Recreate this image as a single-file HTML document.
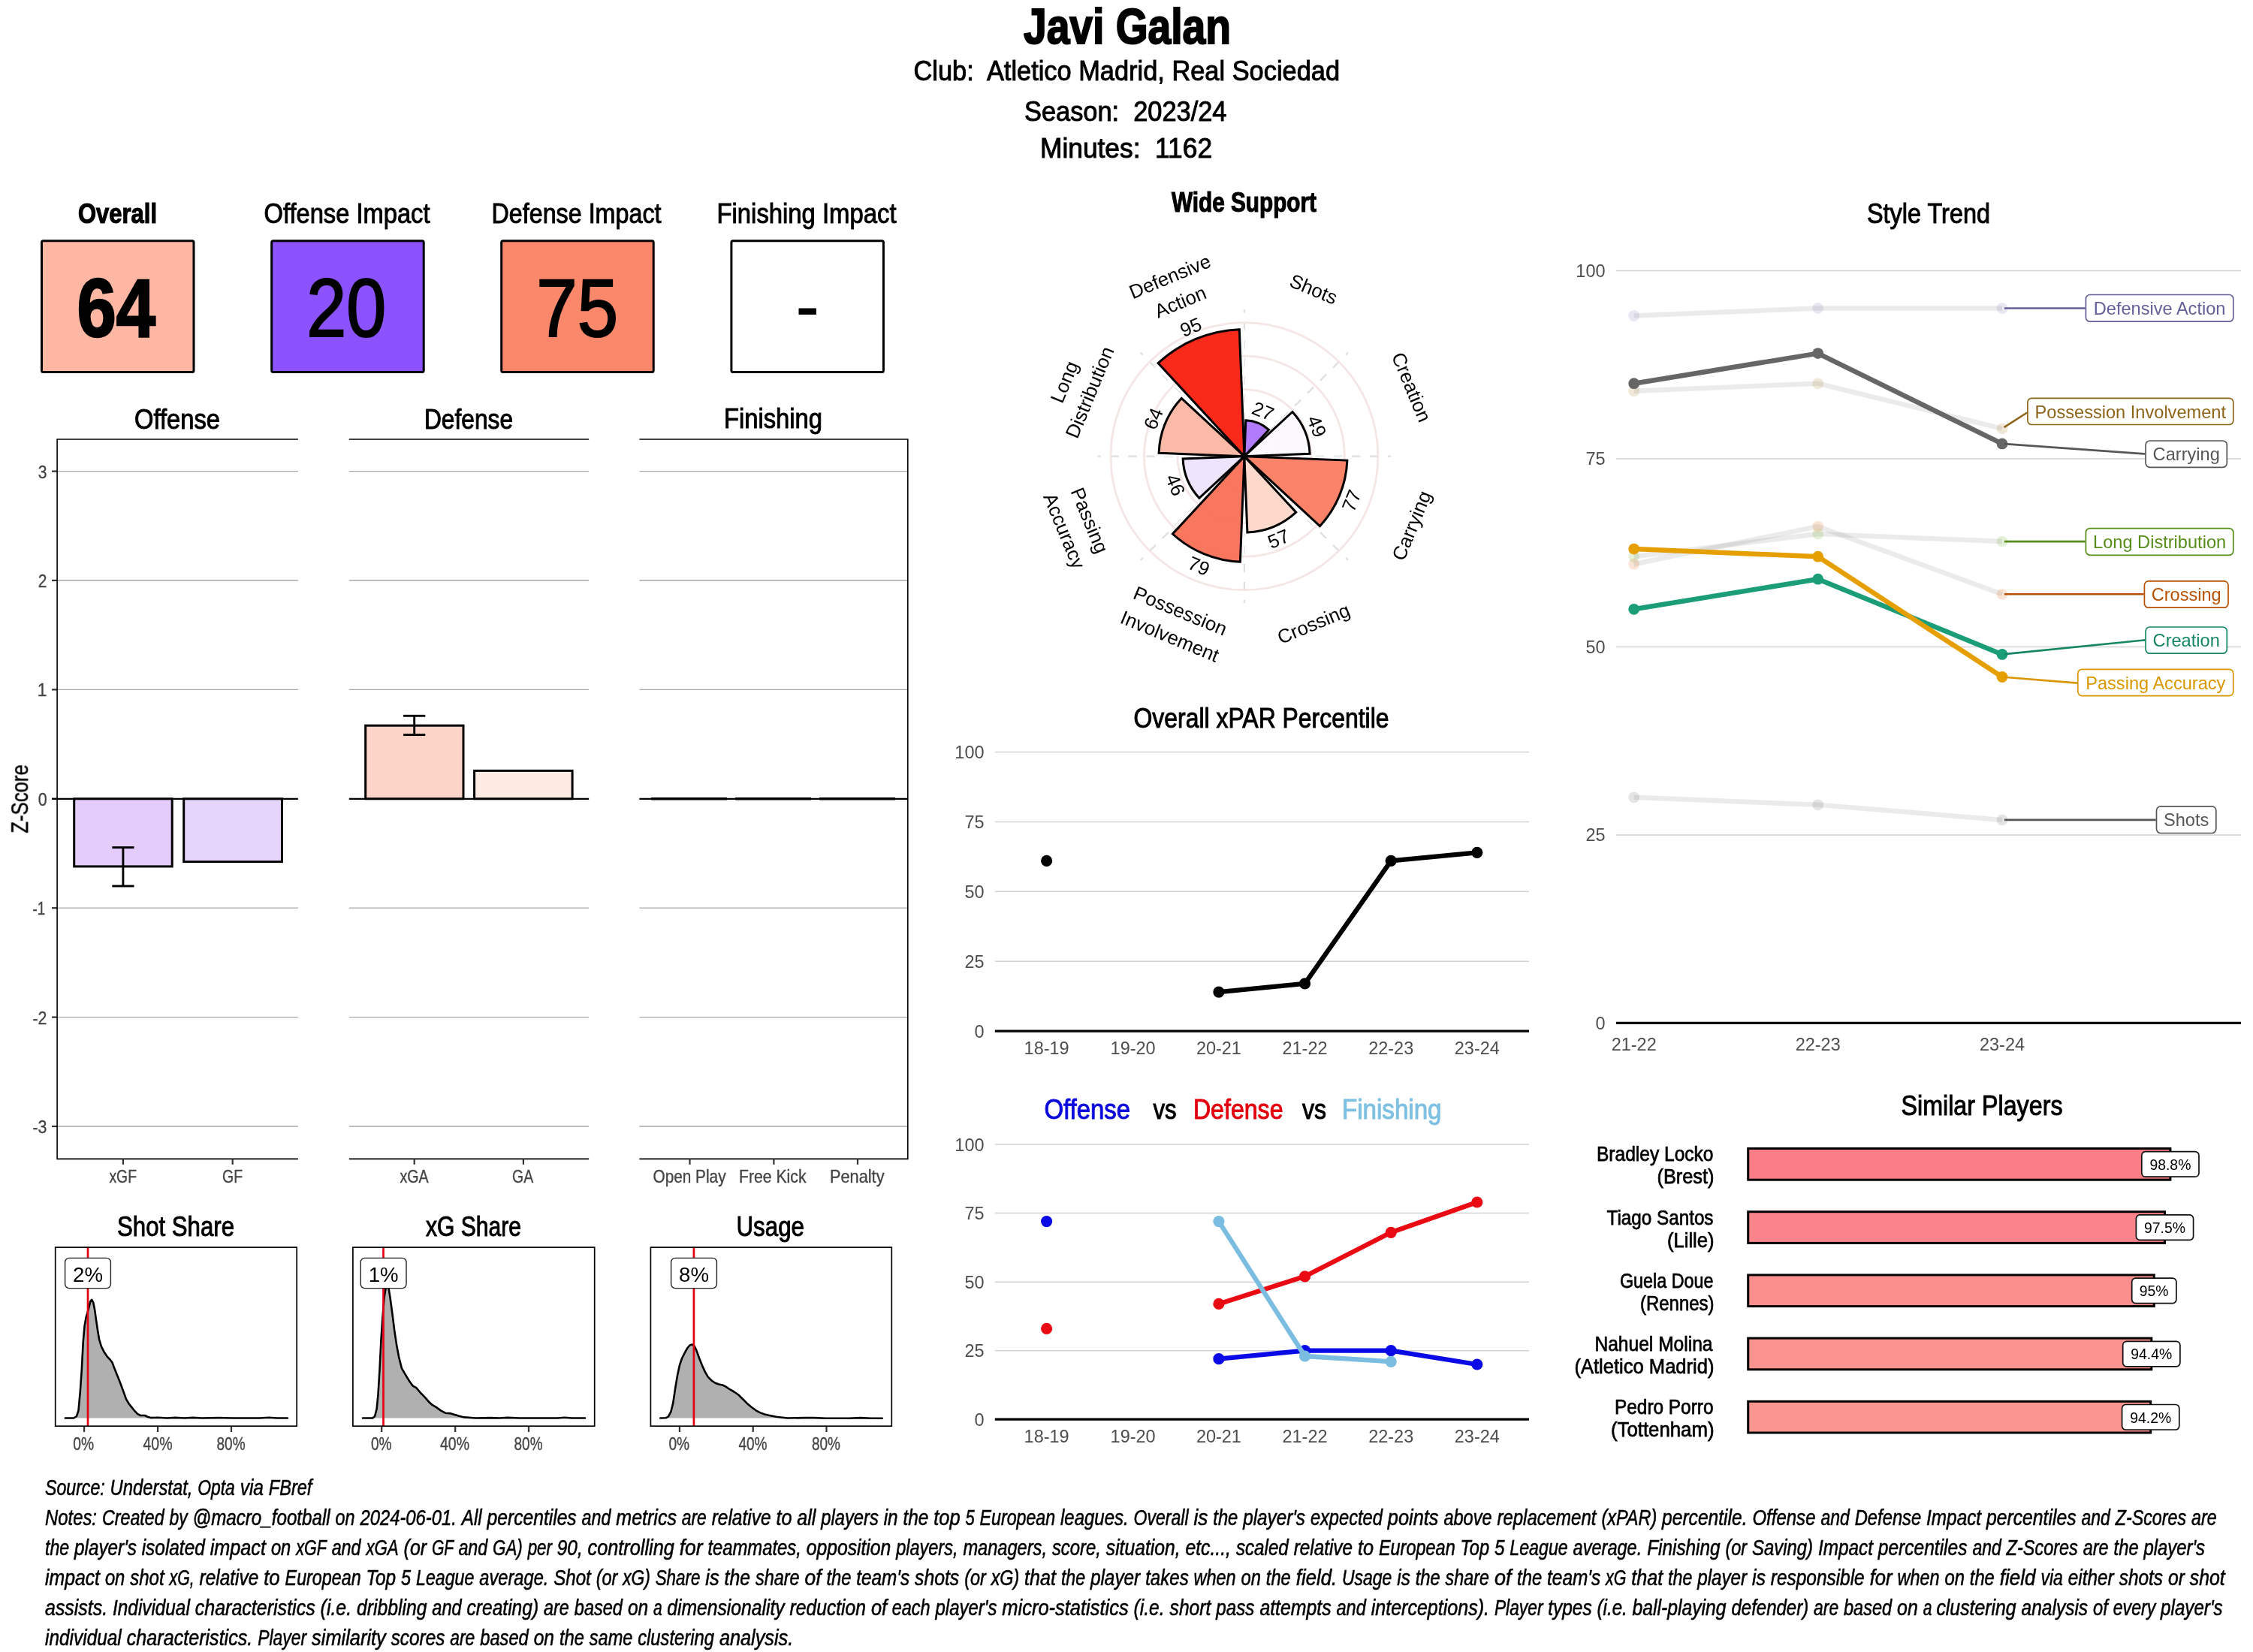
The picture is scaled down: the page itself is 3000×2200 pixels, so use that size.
<!DOCTYPE html>
<html><head><meta charset="utf-8"><title>Javi Galan</title>
<style>html,body{margin:0;padding:0;background:#fff}svg{display:block}text{font-family:"Liberation Sans",sans-serif;white-space:pre}</style>
</head><body>
<svg width="3000" height="2200" viewBox="0 0 3000 2200">
<rect width="3000" height="2200" fill="#fff"/>
<g opacity="0.999">
<text id="t1" x="1362.99" y="57.5" font-size="66.70" textLength="276.02" lengthAdjust="spacingAndGlyphs" font-weight="bold" font-style="normal" fill="#000" stroke="#000" stroke-width="2.13">Javi Galan</text>
<text id="t2" x="1216.49" y="106.5" font-size="36.67" textLength="567.52" lengthAdjust="spacingAndGlyphs" font-weight="normal" font-style="normal" fill="#000" stroke="#000" stroke-width="0.99">Club:  Atletico Madrid, Real Sociedad</text>
<text id="t3" x="1363.98" y="160.5" font-size="36.67" textLength="269.53" lengthAdjust="spacingAndGlyphs" font-weight="normal" font-style="normal" fill="#000" stroke="#000" stroke-width="0.99">Season:  2023/24</text>
<text id="t4" x="1384.97" y="210.2" font-size="36.67" textLength="229.06" lengthAdjust="spacingAndGlyphs" font-weight="normal" font-style="normal" fill="#000" stroke="#000" stroke-width="0.99">Minutes:  1162</text>
<rect x="55.5" y="320.8" width="202.5" height="174.7" fill="#FDB7A3" stroke="#000" stroke-width="3" rx="2"/>
<text id="t5" x="103.99" y="296.8" font-size="36.67" textLength="105.04" lengthAdjust="spacingAndGlyphs" font-weight="bold" font-style="normal" fill="#000" stroke="#000" stroke-width="1.17">Overall</text>
<text id="t6" x="102.48" y="448.0" font-size="110.00" textLength="104.58" lengthAdjust="spacingAndGlyphs" font-weight="bold" font-style="normal" fill="#000" stroke="#000" stroke-width="2.60">64</text>
<rect x="361.7" y="320.8" width="202.5" height="174.7" fill="#8B52FD" stroke="#000" stroke-width="3" rx="2"/>
<text id="t7" x="351.49" y="296.8" font-size="36.67" textLength="221.02" lengthAdjust="spacingAndGlyphs" font-weight="normal" font-style="normal" fill="#000" stroke="#000" stroke-width="0.99">Offense Impact</text>
<text id="t8" x="408.29" y="448.0" font-size="110.00" textLength="105.86" lengthAdjust="spacingAndGlyphs" font-weight="normal" font-style="normal" fill="#000" stroke="#000" stroke-width="2.20">20</text>
<rect x="667.7" y="320.8" width="202.5" height="174.7" fill="#FB886B" stroke="#000" stroke-width="3" rx="2"/>
<text id="t9" x="654.50" y="296.8" font-size="36.67" textLength="226.01" lengthAdjust="spacingAndGlyphs" font-weight="normal" font-style="normal" fill="#000" stroke="#000" stroke-width="0.99">Defense Impact</text>
<text id="t10" x="714.29" y="448.0" font-size="110.00" textLength="108.88" lengthAdjust="spacingAndGlyphs" font-weight="normal" font-style="normal" fill="#000" stroke="#000" stroke-width="2.20">75</text>
<rect x="973.9" y="320.8" width="202.5" height="174.7" fill="#FFFFFF" stroke="#000" stroke-width="3" rx="2"/>
<text id="t11" x="954.50" y="296.8" font-size="36.67" textLength="239.01" lengthAdjust="spacingAndGlyphs" font-weight="normal" font-style="normal" fill="#000" stroke="#000" stroke-width="0.99">Finishing Impact</text>
<rect x="1063.5" y="410.5" width="23.4" height="8.5" fill="#000"/>
<line x1="76.1" y1="627.6" x2="396.9" y2="627.6" stroke="#A8A8A8" stroke-width="1.3"/>
<line x1="76.1" y1="773.0" x2="396.9" y2="773.0" stroke="#A8A8A8" stroke-width="1.3"/>
<line x1="76.1" y1="918.4" x2="396.9" y2="918.4" stroke="#A8A8A8" stroke-width="1.3"/>
<line x1="76.1" y1="1209.2" x2="396.9" y2="1209.2" stroke="#A8A8A8" stroke-width="1.3"/>
<line x1="76.1" y1="1354.6" x2="396.9" y2="1354.6" stroke="#A8A8A8" stroke-width="1.3"/>
<line x1="76.1" y1="1500.0" x2="396.9" y2="1500.0" stroke="#A8A8A8" stroke-width="1.3"/>
<line x1="464.8" y1="627.6" x2="784.1" y2="627.6" stroke="#A8A8A8" stroke-width="1.3"/>
<line x1="464.8" y1="773.0" x2="784.1" y2="773.0" stroke="#A8A8A8" stroke-width="1.3"/>
<line x1="464.8" y1="918.4" x2="784.1" y2="918.4" stroke="#A8A8A8" stroke-width="1.3"/>
<line x1="464.8" y1="1209.2" x2="784.1" y2="1209.2" stroke="#A8A8A8" stroke-width="1.3"/>
<line x1="464.8" y1="1354.6" x2="784.1" y2="1354.6" stroke="#A8A8A8" stroke-width="1.3"/>
<line x1="464.8" y1="1500.0" x2="784.1" y2="1500.0" stroke="#A8A8A8" stroke-width="1.3"/>
<line x1="851.4" y1="627.6" x2="1208.8" y2="627.6" stroke="#A8A8A8" stroke-width="1.3"/>
<line x1="851.4" y1="773.0" x2="1208.8" y2="773.0" stroke="#A8A8A8" stroke-width="1.3"/>
<line x1="851.4" y1="918.4" x2="1208.8" y2="918.4" stroke="#A8A8A8" stroke-width="1.3"/>
<line x1="851.4" y1="1209.2" x2="1208.8" y2="1209.2" stroke="#A8A8A8" stroke-width="1.3"/>
<line x1="851.4" y1="1354.6" x2="1208.8" y2="1354.6" stroke="#A8A8A8" stroke-width="1.3"/>
<line x1="851.4" y1="1500.0" x2="1208.8" y2="1500.0" stroke="#A8A8A8" stroke-width="1.3"/>
<line x1="69.0" y1="627.6" x2="76.1" y2="627.6" stroke="#333" stroke-width="2.2"/>
<text id="t12" x="50.80" y="636.6" font-size="24.40" textLength="11.76" lengthAdjust="spacingAndGlyphs" font-weight="normal" font-style="normal" fill="#444444" stroke="#444444" stroke-width="0.35">3</text>
<line x1="69.0" y1="773.0" x2="76.1" y2="773.0" stroke="#333" stroke-width="2.2"/>
<text id="t13" x="50.85" y="782.0" font-size="24.40" textLength="11.67" lengthAdjust="spacingAndGlyphs" font-weight="normal" font-style="normal" fill="#444444" stroke="#444444" stroke-width="0.35">2</text>
<line x1="69.0" y1="918.4" x2="76.1" y2="918.4" stroke="#333" stroke-width="2.2"/>
<text id="t14" x="49.82" y="927.4" font-size="24.40" textLength="12.70" lengthAdjust="spacingAndGlyphs" font-weight="normal" font-style="normal" fill="#444444" stroke="#444444" stroke-width="0.35">1</text>
<line x1="69.0" y1="1063.8" x2="76.1" y2="1063.8" stroke="#333" stroke-width="2.2"/>
<text id="t15" x="50.77" y="1072.8" font-size="24.40" textLength="12.02" lengthAdjust="spacingAndGlyphs" font-weight="normal" font-style="normal" fill="#444444" stroke="#444444" stroke-width="0.35">0</text>
<line x1="69.0" y1="1209.2" x2="76.1" y2="1209.2" stroke="#333" stroke-width="2.2"/>
<text id="t16" x="43.53" y="1218.2" font-size="24.40" textLength="16.69" lengthAdjust="spacingAndGlyphs" font-weight="normal" font-style="normal" fill="#444444" stroke="#444444" stroke-width="0.35">-1</text>
<line x1="69.0" y1="1354.6" x2="76.1" y2="1354.6" stroke="#333" stroke-width="2.2"/>
<text id="t17" x="43.50" y="1363.6" font-size="24.40" textLength="18.99" lengthAdjust="spacingAndGlyphs" font-weight="normal" font-style="normal" fill="#444444" stroke="#444444" stroke-width="0.35">-2</text>
<line x1="69.0" y1="1500.0" x2="76.1" y2="1500.0" stroke="#333" stroke-width="2.2"/>
<text id="t18" x="43.46" y="1509.0" font-size="24.40" textLength="19.06" lengthAdjust="spacingAndGlyphs" font-weight="normal" font-style="normal" fill="#444444" stroke="#444444" stroke-width="0.35">-3</text>
<rect x="98.7" y="1063.8" width="130.5" height="90.1" fill="#E4CCFB" stroke="#000" stroke-width="3" rx="0"/>
<rect x="244.7" y="1063.8" width="130.8" height="83.8" fill="#E5D5FA" stroke="#000" stroke-width="3" rx="0"/>
<rect x="486.7" y="966.2" width="130.3" height="97.6" fill="#FCD5C8" stroke="#000" stroke-width="3" rx="0"/>
<rect x="631.6" y="1026.4" width="130.5" height="37.4" fill="#FEEBE4" stroke="#000" stroke-width="3" rx="0"/>
<line x1="69.0" y1="1063.8" x2="396.9" y2="1063.8" stroke="#000" stroke-width="2.3"/>
<line x1="464.8" y1="1063.8" x2="784.1" y2="1063.8" stroke="#000" stroke-width="2.3"/>
<line x1="851.4" y1="1063.8" x2="1208.8" y2="1063.8" stroke="#000" stroke-width="2.3"/>
<line x1="867.0" y1="1063.8" x2="968.0" y2="1063.8" stroke="#000" stroke-width="3.6"/>
<line x1="979.0" y1="1063.8" x2="1080.0" y2="1063.8" stroke="#000" stroke-width="3.6"/>
<line x1="1091.0" y1="1063.8" x2="1192.0" y2="1063.8" stroke="#000" stroke-width="3.6"/>
<line x1="163.9" y1="1128.6" x2="163.9" y2="1180.0" stroke="#000" stroke-width="2.9"/>
<line x1="149.3" y1="1128.6" x2="178.5" y2="1128.6" stroke="#000" stroke-width="2.9"/>
<line x1="149.3" y1="1180.0" x2="178.5" y2="1180.0" stroke="#000" stroke-width="2.9"/>
<line x1="551.7" y1="953.3" x2="551.7" y2="978.6" stroke="#000" stroke-width="2.9"/>
<line x1="537.1" y1="953.3" x2="566.3" y2="953.3" stroke="#000" stroke-width="2.9"/>
<line x1="537.1" y1="978.6" x2="566.3" y2="978.6" stroke="#000" stroke-width="2.9"/>
<path d="M396.9 585.0 H76.1 V1543.4 H396.9" fill="none" stroke="#000" stroke-width="1.6"/>
<path d="M464.8 585.0 H784.1 M464.8 1543.4 H784.1" fill="none" stroke="#000" stroke-width="1.6"/>
<path d="M851.4 585.0 H1208.8 V1543.4 H851.4" fill="none" stroke="#000" stroke-width="1.6"/>
<line x1="163.9" y1="1543.4" x2="163.9" y2="1550.8" stroke="#333" stroke-width="2.2"/>
<text id="t19" x="145.43" y="1575.0" font-size="24.40" textLength="36.58" lengthAdjust="spacingAndGlyphs" font-weight="normal" font-style="normal" fill="#444444" stroke="#444444" stroke-width="0.35">xGF</text>
<line x1="309.7" y1="1543.4" x2="309.7" y2="1550.8" stroke="#333" stroke-width="2.2"/>
<text id="t20" x="295.93" y="1575.0" font-size="24.40" textLength="27.15" lengthAdjust="spacingAndGlyphs" font-weight="normal" font-style="normal" fill="#444444" stroke="#444444" stroke-width="0.35">GF</text>
<line x1="551.7" y1="1543.4" x2="551.7" y2="1550.8" stroke="#333" stroke-width="2.2"/>
<text id="t21" x="532.41" y="1575.0" font-size="24.40" textLength="38.22" lengthAdjust="spacingAndGlyphs" font-weight="normal" font-style="normal" fill="#444444" stroke="#444444" stroke-width="0.35">xGA</text>
<line x1="696.9" y1="1543.4" x2="696.9" y2="1550.8" stroke="#333" stroke-width="2.2"/>
<text id="t22" x="682.00" y="1575.0" font-size="24.40" textLength="28.11" lengthAdjust="spacingAndGlyphs" font-weight="normal" font-style="normal" fill="#444444" stroke="#444444" stroke-width="0.35">GA</text>
<line x1="918.5" y1="1543.4" x2="918.5" y2="1550.8" stroke="#333" stroke-width="2.2"/>
<text id="t23" x="869.49" y="1575.0" font-size="24.40" textLength="97.04" lengthAdjust="spacingAndGlyphs" font-weight="normal" font-style="normal" fill="#444444" stroke="#444444" stroke-width="0.35">Open Play</text>
<line x1="1030.4" y1="1543.4" x2="1030.4" y2="1550.8" stroke="#333" stroke-width="2.2"/>
<text id="t24" x="983.99" y="1575.0" font-size="24.40" textLength="89.53" lengthAdjust="spacingAndGlyphs" font-weight="normal" font-style="normal" fill="#444444" stroke="#444444" stroke-width="0.35">Free Kick</text>
<line x1="1142.0" y1="1543.4" x2="1142.0" y2="1550.8" stroke="#333" stroke-width="2.2"/>
<text id="t25" x="1104.98" y="1575.0" font-size="24.40" textLength="72.56" lengthAdjust="spacingAndGlyphs" font-weight="normal" font-style="normal" fill="#444444" stroke="#444444" stroke-width="0.35">Penalty</text>
<text id="t26" x="178.98" y="570.6" font-size="36.67" textLength="114.03" lengthAdjust="spacingAndGlyphs" font-weight="normal" font-style="normal" fill="#000" stroke="#000" stroke-width="0.99">Offense</text>
<text id="t27" x="564.97" y="570.6" font-size="36.67" textLength="118.05" lengthAdjust="spacingAndGlyphs" font-weight="normal" font-style="normal" fill="#000" stroke="#000" stroke-width="0.99">Defense</text>
<text id="t28" x="963.96" y="570.0" font-size="36.67" textLength="131.08" lengthAdjust="spacingAndGlyphs" font-weight="normal" font-style="normal" fill="#000" stroke="#000" stroke-width="0.99">Finishing</text>
<text id="t29" x="-19.55" y="1064.0" font-size="30.56" textLength="91.50" lengthAdjust="spacingAndGlyphs" font-weight="normal" font-style="normal" fill="#000" stroke="#000" stroke-width="0.50" transform="rotate(-90 26.2 1064)" dominant-baseline="central">Z-Score</text>
<path d="M86.9 1888.5 L98.1 1888.5 L102.0 1886.0 L104.5 1878.3 L106.8 1853.1 L108.8 1824.0 L110.7 1787.2 L112.6 1765.9 L114.6 1754.3 L117.5 1744.6 L120.4 1733.0 L122.3 1731.0 L124.3 1734.9 L126.2 1744.6 L128.1 1758.2 L130.1 1771.7 L132.0 1783.3 L134.9 1793.0 L138.8 1800.8 L142.7 1806.6 L146.5 1810.5 L149.4 1814.3 L152.3 1822.1 L156.2 1831.8 L160.1 1841.5 L164.0 1852.1 L167.8 1862.8 L171.7 1869.5 L175.6 1874.4 L179.5 1879.2 L183.3 1883.1 L187.2 1885.0 L193.0 1885.0 L196.9 1887.0 L200.8 1888.1 L210.5 1887.7 L222.1 1888.5 L233.7 1887.9 L245.3 1888.5 L256.9 1887.9 L268.6 1888.5 L291.8 1888.1 L311.2 1888.5 L346.1 1888.5 L357.7 1887.7 L369.3 1888.5 L382.9 1888.5 L382.9 1888.5 Z" fill="#B0B0B0" stroke="none"/>
<path d="M86.9 1888.5 L98.1 1888.5 L102.0 1886.0 L104.5 1878.3 L106.8 1853.1 L108.8 1824.0 L110.7 1787.2 L112.6 1765.9 L114.6 1754.3 L117.5 1744.6 L120.4 1733.0 L122.3 1731.0 L124.3 1734.9 L126.2 1744.6 L128.1 1758.2 L130.1 1771.7 L132.0 1783.3 L134.9 1793.0 L138.8 1800.8 L142.7 1806.6 L146.5 1810.5 L149.4 1814.3 L152.3 1822.1 L156.2 1831.8 L160.1 1841.5 L164.0 1852.1 L167.8 1862.8 L171.7 1869.5 L175.6 1874.4 L179.5 1879.2 L183.3 1883.1 L187.2 1885.0 L193.0 1885.0 L196.9 1887.0 L200.8 1888.1 L210.5 1887.7 L222.1 1888.5 L233.7 1887.9 L245.3 1888.5 L256.9 1887.9 L268.6 1888.5 L291.8 1888.1 L311.2 1888.5 L346.1 1888.5 L357.7 1887.7 L369.3 1888.5 L382.9 1888.5" fill="none" stroke="#000" stroke-width="2.6" stroke-linejoin="round" stroke-linecap="round"/>
<line x1="117.0" y1="1660.5" x2="117.0" y2="1899.6" stroke="#E3000F" stroke-width="2.7"/>
<rect x="73.7" y="1661.1" width="321.5" height="238.1" fill="none" stroke="#000" stroke-width="1.7" rx="0"/>
<line x1="112.1" y1="1899.6" x2="112.1" y2="1907.0" stroke="#333" stroke-width="2.2"/>
<text id="t30" x="97.35" y="1930.6" font-size="24.40" textLength="27.80" lengthAdjust="spacingAndGlyphs" font-weight="normal" font-style="normal" fill="#444444" stroke="#444444" stroke-width="0.35">0%</text>
<line x1="210.1" y1="1899.6" x2="210.1" y2="1907.0" stroke="#333" stroke-width="2.2"/>
<text id="t31" x="190.44" y="1930.6" font-size="24.40" textLength="39.04" lengthAdjust="spacingAndGlyphs" font-weight="normal" font-style="normal" fill="#444444" stroke="#444444" stroke-width="0.35">40%</text>
<line x1="308.0" y1="1899.6" x2="308.0" y2="1907.0" stroke="#333" stroke-width="2.2"/>
<text id="t32" x="288.50" y="1930.6" font-size="24.40" textLength="38.03" lengthAdjust="spacingAndGlyphs" font-weight="normal" font-style="normal" fill="#444444" stroke="#444444" stroke-width="0.35">80%</text>
<rect x="86.6" y="1675.4" width="60.8" height="40.2" fill="#fff" stroke="#222" stroke-width="1.4" rx="5.5"/>
<text x="117.0" y="1706.5" font-size="27.60" text-anchor="middle" font-weight="normal" fill="#000">2%</text>
<text id="t33" x="155.99" y="1646.0" font-size="36.67" textLength="156.03" lengthAdjust="spacingAndGlyphs" font-weight="normal" font-style="normal" fill="#000" stroke="#000" stroke-width="0.99">Shot Share</text>
<path d="M483.0 1888.5 L496.2 1888.5 L499.1 1886.0 L501.6 1876.3 L503.5 1856.9 L505.5 1824.0 L507.4 1785.3 L509.3 1756.2 L511.7 1727.2 L513.6 1715.5 L515.2 1712.6 L517.5 1715.5 L519.4 1727.2 L522.3 1748.5 L525.2 1771.7 L528.1 1791.1 L531.0 1806.6 L534.9 1822.1 L538.8 1828.9 L544.6 1838.5 L549.4 1845.3 L554.3 1848.2 L560.1 1855.0 L565.9 1860.8 L571.7 1867.6 L575.6 1870.9 L581.4 1874.4 L587.2 1878.6 L593.0 1881.7 L598.8 1882.1 L604.6 1883.7 L610.5 1885.6 L618.2 1887.4 L633.7 1888.5 L653.1 1888.1 L664.7 1888.5 L676.3 1887.9 L691.8 1888.5 L742.2 1888.5 L751.9 1887.7 L761.5 1888.5 L779.0 1888.5 L779.0 1888.5 Z" fill="#B0B0B0" stroke="none"/>
<path d="M483.0 1888.5 L496.2 1888.5 L499.1 1886.0 L501.6 1876.3 L503.5 1856.9 L505.5 1824.0 L507.4 1785.3 L509.3 1756.2 L511.7 1727.2 L513.6 1715.5 L515.2 1712.6 L517.5 1715.5 L519.4 1727.2 L522.3 1748.5 L525.2 1771.7 L528.1 1791.1 L531.0 1806.6 L534.9 1822.1 L538.8 1828.9 L544.6 1838.5 L549.4 1845.3 L554.3 1848.2 L560.1 1855.0 L565.9 1860.8 L571.7 1867.6 L575.6 1870.9 L581.4 1874.4 L587.2 1878.6 L593.0 1881.7 L598.8 1882.1 L604.6 1883.7 L610.5 1885.6 L618.2 1887.4 L633.7 1888.5 L653.1 1888.1 L664.7 1888.5 L676.3 1887.9 L691.8 1888.5 L742.2 1888.5 L751.9 1887.7 L761.5 1888.5 L779.0 1888.5" fill="none" stroke="#000" stroke-width="2.6" stroke-linejoin="round" stroke-linecap="round"/>
<line x1="510.5" y1="1660.5" x2="510.5" y2="1899.6" stroke="#E3000F" stroke-width="2.7"/>
<rect x="469.9" y="1661.1" width="321.8" height="238.1" fill="none" stroke="#000" stroke-width="1.7" rx="0"/>
<line x1="508.2" y1="1899.6" x2="508.2" y2="1907.0" stroke="#333" stroke-width="2.2"/>
<text id="t34" x="493.93" y="1930.6" font-size="24.40" textLength="27.68" lengthAdjust="spacingAndGlyphs" font-weight="normal" font-style="normal" fill="#444444" stroke="#444444" stroke-width="0.35">0%</text>
<line x1="606.2" y1="1899.6" x2="606.2" y2="1907.0" stroke="#333" stroke-width="2.2"/>
<text id="t35" x="585.96" y="1930.6" font-size="24.40" textLength="39.07" lengthAdjust="spacingAndGlyphs" font-weight="normal" font-style="normal" fill="#444444" stroke="#444444" stroke-width="0.35">40%</text>
<line x1="704.0" y1="1899.6" x2="704.0" y2="1907.0" stroke="#333" stroke-width="2.2"/>
<text id="t36" x="684.50" y="1930.6" font-size="24.40" textLength="38.03" lengthAdjust="spacingAndGlyphs" font-weight="normal" font-style="normal" fill="#444444" stroke="#444444" stroke-width="0.35">80%</text>
<rect x="480.2" y="1675.4" width="60.8" height="40.2" fill="#fff" stroke="#222" stroke-width="1.4" rx="5.5"/>
<text x="510.6" y="1706.5" font-size="27.60" text-anchor="middle" font-weight="normal" fill="#000">1%</text>
<text id="t37" x="567.00" y="1646.0" font-size="36.67" textLength="127.01" lengthAdjust="spacingAndGlyphs" font-weight="normal" font-style="normal" fill="#000" stroke="#000" stroke-width="0.99">xG Share</text>
<path d="M879.3 1888.5 L886.5 1888.3 L890.0 1886.4 L893.3 1880.2 L896.2 1868.6 L899.1 1849.2 L902.0 1831.8 L904.9 1818.2 L907.8 1809.5 L911.7 1801.7 L915.5 1795.0 L918.5 1791.5 L921.4 1790.5 L924.3 1792.1 L927.2 1797.9 L931.0 1808.5 L934.9 1818.2 L938.8 1826.9 L942.7 1833.7 L947.5 1838.5 L952.3 1841.8 L957.2 1843.4 L962.0 1844.4 L966.9 1846.9 L971.7 1850.2 L977.5 1853.5 L983.3 1857.5 L989.2 1863.3 L995.0 1869.2 L1000.8 1874.0 L1006.6 1878.3 L1012.4 1881.4 L1018.2 1883.5 L1026.0 1885.2 L1033.7 1886.8 L1041.5 1887.7 L1049.2 1888.5 L1072.4 1888.1 L1084.1 1888.1 L1099.6 1888.7 L1130.6 1888.7 L1146.1 1888.1 L1159.6 1888.7 L1174.7 1888.7 L1174.7 1888.5 Z" fill="#B0B0B0" stroke="none"/>
<path d="M879.3 1888.5 L886.5 1888.3 L890.0 1886.4 L893.3 1880.2 L896.2 1868.6 L899.1 1849.2 L902.0 1831.8 L904.9 1818.2 L907.8 1809.5 L911.7 1801.7 L915.5 1795.0 L918.5 1791.5 L921.4 1790.5 L924.3 1792.1 L927.2 1797.9 L931.0 1808.5 L934.9 1818.2 L938.8 1826.9 L942.7 1833.7 L947.5 1838.5 L952.3 1841.8 L957.2 1843.4 L962.0 1844.4 L966.9 1846.9 L971.7 1850.2 L977.5 1853.5 L983.3 1857.5 L989.2 1863.3 L995.0 1869.2 L1000.8 1874.0 L1006.6 1878.3 L1012.4 1881.4 L1018.2 1883.5 L1026.0 1885.2 L1033.7 1886.8 L1041.5 1887.7 L1049.2 1888.5 L1072.4 1888.1 L1084.1 1888.1 L1099.6 1888.7 L1130.6 1888.7 L1146.1 1888.1 L1159.6 1888.7 L1174.7 1888.7" fill="none" stroke="#000" stroke-width="2.6" stroke-linejoin="round" stroke-linecap="round"/>
<line x1="923.9" y1="1660.5" x2="923.9" y2="1899.6" stroke="#E3000F" stroke-width="2.7"/>
<rect x="866.4" y="1661.1" width="320.9" height="238.1" fill="none" stroke="#000" stroke-width="1.7" rx="0"/>
<line x1="904.9" y1="1899.6" x2="904.9" y2="1907.0" stroke="#333" stroke-width="2.2"/>
<text id="t38" x="890.41" y="1930.6" font-size="24.40" textLength="27.68" lengthAdjust="spacingAndGlyphs" font-weight="normal" font-style="normal" fill="#444444" stroke="#444444" stroke-width="0.35">0%</text>
<line x1="1002.7" y1="1899.6" x2="1002.7" y2="1907.0" stroke="#333" stroke-width="2.2"/>
<text id="t39" x="983.41" y="1930.6" font-size="24.40" textLength="38.15" lengthAdjust="spacingAndGlyphs" font-weight="normal" font-style="normal" fill="#444444" stroke="#444444" stroke-width="0.35">40%</text>
<line x1="1100.5" y1="1899.6" x2="1100.5" y2="1907.0" stroke="#333" stroke-width="2.2"/>
<text id="t40" x="1080.97" y="1930.6" font-size="24.40" textLength="38.03" lengthAdjust="spacingAndGlyphs" font-weight="normal" font-style="normal" fill="#444444" stroke="#444444" stroke-width="0.35">80%</text>
<rect x="893.6" y="1675.4" width="60.8" height="40.2" fill="#fff" stroke="#222" stroke-width="1.4" rx="5.5"/>
<text x="924.0" y="1706.5" font-size="27.60" text-anchor="middle" font-weight="normal" fill="#000">8%</text>
<text id="t41" x="980.48" y="1646.0" font-size="36.67" textLength="90.54" lengthAdjust="spacingAndGlyphs" font-weight="normal" font-style="normal" fill="#000" stroke="#000" stroke-width="0.99">Usage</text>
<text id="t42" x="1559.99" y="281.6" font-size="36.67" textLength="193.03" lengthAdjust="spacingAndGlyphs" font-weight="bold" font-style="normal" fill="#000" stroke="#000" stroke-width="1.17">Wide Support</text>
<line x1="1656.9" y1="607.7" x2="1656.9" y2="412.2" stroke="#DFDFDF" stroke-width="2.3" stroke-dasharray="11.5 12.5" stroke-dashoffset="1"/>
<line x1="1656.9" y1="607.7" x2="1795.1" y2="469.5" stroke="#DFDFDF" stroke-width="2.3" stroke-dasharray="11.5 12.5" stroke-dashoffset="1"/>
<line x1="1656.9" y1="607.7" x2="1852.4" y2="607.7" stroke="#DFDFDF" stroke-width="2.3" stroke-dasharray="11.5 12.5" stroke-dashoffset="1"/>
<line x1="1656.9" y1="607.7" x2="1795.1" y2="745.9" stroke="#DFDFDF" stroke-width="2.3" stroke-dasharray="11.5 12.5" stroke-dashoffset="1"/>
<line x1="1656.9" y1="607.7" x2="1656.9" y2="803.2" stroke="#DFDFDF" stroke-width="2.3" stroke-dasharray="11.5 12.5" stroke-dashoffset="1"/>
<line x1="1656.9" y1="607.7" x2="1518.7" y2="745.9" stroke="#DFDFDF" stroke-width="2.3" stroke-dasharray="11.5 12.5" stroke-dashoffset="1"/>
<line x1="1656.9" y1="607.7" x2="1461.4" y2="607.7" stroke="#DFDFDF" stroke-width="2.3" stroke-dasharray="11.5 12.5" stroke-dashoffset="1"/>
<line x1="1656.9" y1="607.7" x2="1518.7" y2="469.5" stroke="#DFDFDF" stroke-width="2.3" stroke-dasharray="11.5 12.5" stroke-dashoffset="1"/>
<path d="M1656.9 607.7 L1656.90 558.14 A49.6 49.6 0 0 1 1691.94 572.66 Z" fill="#fff" stroke="none"/>
<path d="M1656.9 607.7 L1719.63 544.97 A88.7 88.7 0 0 1 1745.62 607.70 Z" fill="#fff" stroke="none"/>
<path d="M1656.9 607.7 L1795.46 607.70 A138.6 138.6 0 0 1 1754.88 705.68 Z" fill="#fff" stroke="none"/>
<path d="M1656.9 607.7 L1729.70 680.50 A103.0 103.0 0 0 1 1656.90 710.66 Z" fill="#fff" stroke="none"/>
<path d="M1656.9 607.7 L1656.90 749.82 A142.1 142.1 0 0 1 1556.41 708.19 Z" fill="#fff" stroke="none"/>
<path d="M1656.9 607.7 L1597.94 666.66 A83.4 83.4 0 0 1 1573.52 607.70 Z" fill="#fff" stroke="none"/>
<path d="M1656.9 607.7 L1541.48 607.70 A115.4 115.4 0 0 1 1575.29 526.09 Z" fill="#fff" stroke="none"/>
<path d="M1656.9 607.7 L1536.27 487.07 A170.6 170.6 0 0 1 1656.90 437.10 Z" fill="#fff" stroke="none"/>
<circle cx="1656.9" cy="607.7" r="44.5" fill="none" stroke="#F5E6E6" stroke-width="2.8"/>
<circle cx="1656.9" cy="607.7" r="89.0" fill="none" stroke="#F5E6E6" stroke-width="2.8"/>
<circle cx="1656.9" cy="607.7" r="133.5" fill="none" stroke="#F5E6E6" stroke-width="2.8"/>
<circle cx="1656.9" cy="607.7" r="178.0" fill="none" stroke="#F5E6E6" stroke-width="2.8"/>
<path d="M1656.9 607.7 L1658.8 559.7 A48.1 48.1 0 0 1 1689.5 572.4 Z" fill="#AB71FB" fill-opacity="0.93" stroke="#000" stroke-width="3" stroke-linejoin="miter"/>
<path d="M1656.9 607.7 L1720.9 548.5 A87.2 87.2 0 0 1 1744.1 604.3 Z" fill="#FBF7FE" fill-opacity="0.93" stroke="#000" stroke-width="3" stroke-linejoin="miter"/>
<path d="M1656.9 607.7 L1793.9 613.1 A137.1 137.1 0 0 1 1757.5 700.7 Z" fill="#FA7A5F" fill-opacity="0.93" stroke="#000" stroke-width="3" stroke-linejoin="miter"/>
<path d="M1656.9 607.7 L1725.8 682.2 A101.5 101.5 0 0 1 1660.9 709.1 Z" fill="#FDD6C8" fill-opacity="0.93" stroke="#000" stroke-width="3" stroke-linejoin="miter"/>
<path d="M1656.9 607.7 L1651.4 748.2 A140.6 140.6 0 0 1 1561.4 711.0 Z" fill="#F96C53" fill-opacity="0.93" stroke="#000" stroke-width="3" stroke-linejoin="miter"/>
<path d="M1656.9 607.7 L1596.8 663.3 A81.9 81.9 0 0 1 1575.1 610.9 Z" fill="#EDE2FD" fill-opacity="0.93" stroke="#000" stroke-width="3" stroke-linejoin="miter"/>
<path d="M1656.9 607.7 L1543.1 603.2 A113.9 113.9 0 0 1 1573.2 530.4 Z" fill="#FBB5A1" fill-opacity="0.93" stroke="#000" stroke-width="3" stroke-linejoin="miter"/>
<path d="M1656.9 607.7 L1542.1 483.5 A169.1 169.1 0 0 1 1650.3 438.7 Z" fill="#FA1A0A" fill-opacity="0.93" stroke="#000" stroke-width="3" stroke-linejoin="miter"/>
<text x="1681.9" y="547.3" font-size="25.5" text-anchor="middle" dominant-baseline="central" transform="rotate(22.5 1681.9 547.3)">27</text>
<text x="1749.1" y="385.0" font-size="25.8" text-anchor="middle" dominant-baseline="central" transform="rotate(22.5 1749.1 385.0)">Shots</text>
<text x="1753.5" y="567.7" font-size="25.5" text-anchor="middle" dominant-baseline="central" transform="rotate(67.5 1753.5 567.7)">49</text>
<text x="1879.6" y="515.5" font-size="25.8" text-anchor="middle" dominant-baseline="central" transform="rotate(67.5 1879.6 515.5)">Creation</text>
<text x="1799.5" y="666.8" font-size="25.5" text-anchor="middle" dominant-baseline="central" transform="rotate(-67.5 1799.5 666.8)">77</text>
<text x="1879.6" y="699.9" font-size="25.8" text-anchor="middle" dominant-baseline="central" transform="rotate(-67.5 1879.6 699.9)">Carrying</text>
<text x="1702.3" y="717.4" font-size="25.5" text-anchor="middle" dominant-baseline="central" transform="rotate(-22.5 1702.3 717.4)">57</text>
<text x="1749.1" y="830.4" font-size="25.8" text-anchor="middle" dominant-baseline="central" transform="rotate(-22.5 1749.1 830.4)">Crossing</text>
<text x="1596.5" y="753.6" font-size="25.5" text-anchor="middle" dominant-baseline="central" transform="rotate(22.5 1596.5 753.6)">79</text>
<text x="1564.7" y="812.1" font-size="25.8" text-anchor="middle" dominant-baseline="central" transform="rotate(22.5 1564.7 830.4)">Possession</text>
<text x="1564.7" y="848.6" font-size="25.8" text-anchor="middle" dominant-baseline="central" transform="rotate(22.5 1564.7 830.4)">Involvement</text>
<text x="1565.3" y="645.7" font-size="25.5" text-anchor="middle" dominant-baseline="central" transform="rotate(67.5 1565.3 645.7)">46</text>
<text x="1434.2" y="681.7" font-size="25.8" text-anchor="middle" dominant-baseline="central" transform="rotate(67.5 1434.2 699.9)">Passing</text>
<text x="1434.2" y="718.2" font-size="25.8" text-anchor="middle" dominant-baseline="central" transform="rotate(67.5 1434.2 699.9)">Accuracy</text>
<text x="1535.7" y="557.5" font-size="25.5" text-anchor="middle" dominant-baseline="central" transform="rotate(-67.5 1535.7 557.5)">64</text>
<text x="1434.2" y="497.2" font-size="25.8" text-anchor="middle" dominant-baseline="central" transform="rotate(-67.5 1434.2 515.5)">Long</text>
<text x="1434.2" y="533.7" font-size="25.8" text-anchor="middle" dominant-baseline="central" transform="rotate(-67.5 1434.2 515.5)">Distribution</text>
<text x="1585.6" y="435.5" font-size="25.5" text-anchor="middle" dominant-baseline="central" transform="rotate(-22.5 1585.6 435.5)">95</text>
<text x="1564.7" y="366.8" font-size="25.8" text-anchor="middle" dominant-baseline="central" transform="rotate(-22.5 1564.7 385.0)">Defensive</text>
<text x="1564.7" y="403.3" font-size="25.8" text-anchor="middle" dominant-baseline="central" transform="rotate(-22.5 1564.7 385.0)">Action</text>
<line x1="1324.8" y1="1280.2" x2="2036.0" y2="1280.2" stroke="#D3D3D3" stroke-width="1.5"/>
<text x="1310.5" y="1288.6" font-size="23.47" text-anchor="end" font-weight="normal" fill="#4D4D4D">25</text>
<line x1="1324.8" y1="1187.3" x2="2036.0" y2="1187.3" stroke="#D3D3D3" stroke-width="1.5"/>
<text x="1310.5" y="1195.7" font-size="23.47" text-anchor="end" font-weight="normal" fill="#4D4D4D">50</text>
<line x1="1324.8" y1="1094.4" x2="2036.0" y2="1094.4" stroke="#D3D3D3" stroke-width="1.5"/>
<text x="1310.5" y="1102.8" font-size="23.47" text-anchor="end" font-weight="normal" fill="#4D4D4D">75</text>
<line x1="1324.8" y1="1001.5" x2="2036.0" y2="1001.5" stroke="#D3D3D3" stroke-width="1.5"/>
<text x="1310.5" y="1009.9" font-size="23.47" text-anchor="end" font-weight="normal" fill="#4D4D4D">100</text>
<text x="1310.5" y="1381.5" font-size="23.47" text-anchor="end" font-weight="normal" fill="#4D4D4D">0</text>
<path d="M1622.9 1321.1 L1737.5 1309.9 L1852.2 1146.4 L1966.8 1135.3" fill="none" stroke="#000" stroke-width="6.3" stroke-linejoin="round" stroke-linecap="butt"/>
<circle cx="1393.6" cy="1146.4" r="7.6" fill="#000"/>
<circle cx="1622.9" cy="1321.1" r="7.6" fill="#000"/>
<circle cx="1737.5" cy="1309.9" r="7.6" fill="#000"/>
<circle cx="1852.2" cy="1146.4" r="7.6" fill="#000"/>
<circle cx="1966.8" cy="1135.3" r="7.6" fill="#000"/>
<line x1="1324.8" y1="1373.1" x2="2036.0" y2="1373.1" stroke="#000" stroke-width="3.2"/>
<text x="1393.6" y="1404.0" font-size="23.47" text-anchor="middle" font-weight="normal" fill="#4D4D4D">18-19</text>
<text x="1508.6" y="1404.0" font-size="23.47" text-anchor="middle" font-weight="normal" fill="#4D4D4D">19-20</text>
<text x="1622.9" y="1404.0" font-size="23.47" text-anchor="middle" font-weight="normal" fill="#4D4D4D">20-21</text>
<text x="1737.5" y="1404.0" font-size="23.47" text-anchor="middle" font-weight="normal" fill="#4D4D4D">21-22</text>
<text x="1852.2" y="1404.0" font-size="23.47" text-anchor="middle" font-weight="normal" fill="#4D4D4D">22-23</text>
<text x="1966.8" y="1404.0" font-size="23.47" text-anchor="middle" font-weight="normal" fill="#4D4D4D">23-24</text>
<text id="t43" x="1509.49" y="969.1" font-size="36.67" textLength="340.02" lengthAdjust="spacingAndGlyphs" font-weight="normal" font-style="normal" fill="#000" stroke="#000" stroke-width="0.99">Overall xPAR Percentile</text>
<line x1="1324.8" y1="1798.7" x2="2036.0" y2="1798.7" stroke="#D3D3D3" stroke-width="1.5"/>
<text x="1310.5" y="1807.1" font-size="23.47" text-anchor="end" font-weight="normal" fill="#4D4D4D">25</text>
<line x1="1324.8" y1="1707.2" x2="2036.0" y2="1707.2" stroke="#D3D3D3" stroke-width="1.5"/>
<text x="1310.5" y="1715.6" font-size="23.47" text-anchor="end" font-weight="normal" fill="#4D4D4D">50</text>
<line x1="1324.8" y1="1615.6" x2="2036.0" y2="1615.6" stroke="#D3D3D3" stroke-width="1.5"/>
<text x="1310.5" y="1624.0" font-size="23.47" text-anchor="end" font-weight="normal" fill="#4D4D4D">75</text>
<line x1="1324.8" y1="1524.1" x2="2036.0" y2="1524.1" stroke="#D3D3D3" stroke-width="1.5"/>
<text x="1310.5" y="1532.5" font-size="23.47" text-anchor="end" font-weight="normal" fill="#4D4D4D">100</text>
<text x="1310.5" y="1898.6" font-size="23.47" text-anchor="end" font-weight="normal" fill="#4D4D4D">0</text>
<path d="M1622.9 1809.7 L1737.5 1798.7 L1852.2 1798.7 L1966.8 1817.0" fill="none" stroke="#0A0AE6" stroke-width="6.3" stroke-linejoin="round" stroke-linecap="butt"/>
<circle cx="1393.6" cy="1626.6" r="7.6" fill="#0A0AE6"/>
<circle cx="1622.9" cy="1809.7" r="7.6" fill="#0A0AE6"/>
<circle cx="1737.5" cy="1798.7" r="7.6" fill="#0A0AE6"/>
<circle cx="1852.2" cy="1798.7" r="7.6" fill="#0A0AE6"/>
<circle cx="1966.8" cy="1817.0" r="7.6" fill="#0A0AE6"/>
<path d="M1622.9 1736.4 L1737.5 1699.8 L1852.2 1641.3 L1966.8 1601.0" fill="none" stroke="#EA0A14" stroke-width="6.3" stroke-linejoin="round" stroke-linecap="butt"/>
<circle cx="1393.6" cy="1769.4" r="7.6" fill="#EA0A14"/>
<circle cx="1622.9" cy="1736.4" r="7.6" fill="#EA0A14"/>
<circle cx="1737.5" cy="1699.8" r="7.6" fill="#EA0A14"/>
<circle cx="1852.2" cy="1641.3" r="7.6" fill="#EA0A14"/>
<circle cx="1966.8" cy="1601.0" r="7.6" fill="#EA0A14"/>
<path d="M1622.9 1626.6 L1737.5 1806.0 L1852.2 1813.3" fill="none" stroke="#7BBDE0" stroke-width="6.3" stroke-linejoin="round" stroke-linecap="butt"/>
<circle cx="1622.9" cy="1626.6" r="7.6" fill="#7BBDE0"/>
<circle cx="1737.5" cy="1806.0" r="7.6" fill="#7BBDE0"/>
<circle cx="1852.2" cy="1813.3" r="7.6" fill="#7BBDE0"/>
<line x1="1324.8" y1="1890.2" x2="2036.0" y2="1890.2" stroke="#000" stroke-width="3.2"/>
<text x="1393.6" y="1921.0" font-size="23.47" text-anchor="middle" font-weight="normal" fill="#4D4D4D">18-19</text>
<text x="1508.6" y="1921.0" font-size="23.47" text-anchor="middle" font-weight="normal" fill="#4D4D4D">19-20</text>
<text x="1622.9" y="1921.0" font-size="23.47" text-anchor="middle" font-weight="normal" fill="#4D4D4D">20-21</text>
<text x="1737.5" y="1921.0" font-size="23.47" text-anchor="middle" font-weight="normal" fill="#4D4D4D">21-22</text>
<text x="1852.2" y="1921.0" font-size="23.47" text-anchor="middle" font-weight="normal" fill="#4D4D4D">22-23</text>
<text x="1966.8" y="1921.0" font-size="23.47" text-anchor="middle" font-weight="normal" fill="#4D4D4D">23-24</text>
<text id="t44" x="1390.49" y="1490.2" font-size="36.67" textLength="114.54" lengthAdjust="spacingAndGlyphs" font-weight="normal" font-style="normal" fill="#0A0ADC" stroke="#0A0ADC" stroke-width="0.99">Offense</text>
<text id="t45" x="1535.41" y="1490.2" font-size="36.67" textLength="31.13" lengthAdjust="spacingAndGlyphs" font-weight="normal" font-style="normal" fill="#000" stroke="#000" stroke-width="0.99">vs</text>
<text id="t46" x="1588.95" y="1490.2" font-size="36.67" textLength="119.58" lengthAdjust="spacingAndGlyphs" font-weight="normal" font-style="normal" fill="#E3000F" stroke="#E3000F" stroke-width="0.99">Defense</text>
<text id="t47" x="1733.95" y="1490.2" font-size="36.67" textLength="32.10" lengthAdjust="spacingAndGlyphs" font-weight="normal" font-style="normal" fill="#000" stroke="#000" stroke-width="0.99">vs</text>
<text id="t48" x="1786.95" y="1490.2" font-size="36.67" textLength="132.60" lengthAdjust="spacingAndGlyphs" font-weight="normal" font-style="normal" fill="#7EC0E2" stroke="#7EC0E2" stroke-width="0.99">Finishing</text>
<text id="t49" x="2485.97" y="297.2" font-size="36.67" textLength="164.04" lengthAdjust="spacingAndGlyphs" font-weight="normal" font-style="normal" fill="#000" stroke="#000" stroke-width="0.99">Style Trend</text>
<line x1="2152.0" y1="1111.9" x2="2984.0" y2="1111.9" stroke="#D3D3D3" stroke-width="1.5"/>
<text x="2137.5" y="1120.3" font-size="23.47" text-anchor="end" font-weight="normal" fill="#4D4D4D">25</text>
<line x1="2152.0" y1="861.4" x2="2984.0" y2="861.4" stroke="#D3D3D3" stroke-width="1.5"/>
<text x="2137.5" y="869.8" font-size="23.47" text-anchor="end" font-weight="normal" fill="#4D4D4D">50</text>
<line x1="2152.0" y1="610.9" x2="2984.0" y2="610.9" stroke="#D3D3D3" stroke-width="1.5"/>
<text x="2137.5" y="619.3" font-size="23.47" text-anchor="end" font-weight="normal" fill="#4D4D4D">75</text>
<line x1="2152.0" y1="360.4" x2="2984.0" y2="360.4" stroke="#D3D3D3" stroke-width="1.5"/>
<text x="2137.5" y="368.8" font-size="23.47" text-anchor="end" font-weight="normal" fill="#4D4D4D">100</text>
<text x="2137.5" y="1370.8" font-size="23.47" text-anchor="end" font-weight="normal" fill="#4D4D4D">0</text>
<path d="M2175.7 1061.8 L2420.7 1071.8 L2666.0 1091.9" fill="none" stroke="#7A7A7A" stroke-opacity="0.15" stroke-width="6.5" stroke-linejoin="round"/><circle cx="2175.7" cy="1061.8" r="7.4" fill="#666666" fill-opacity="0.17"/><circle cx="2420.7" cy="1071.8" r="7.4" fill="#666666" fill-opacity="0.17"/><circle cx="2666.0" cy="1091.9" r="7.4" fill="#666666" fill-opacity="0.17"/>
<path d="M2175.7 420.5 L2420.7 410.5 L2666.0 410.5" fill="none" stroke="#7A7A7A" stroke-opacity="0.15" stroke-width="6.5" stroke-linejoin="round"/><circle cx="2175.7" cy="420.5" r="7.4" fill="#7570B3" fill-opacity="0.17"/><circle cx="2420.7" cy="410.5" r="7.4" fill="#7570B3" fill-opacity="0.17"/><circle cx="2666.0" cy="410.5" r="7.4" fill="#7570B3" fill-opacity="0.17"/>
<path d="M2175.7 520.7 L2420.7 510.7 L2666.0 570.8" fill="none" stroke="#7A7A7A" stroke-opacity="0.15" stroke-width="6.5" stroke-linejoin="round"/><circle cx="2175.7" cy="520.7" r="7.4" fill="#A6761D" fill-opacity="0.17"/><circle cx="2420.7" cy="510.7" r="7.4" fill="#A6761D" fill-opacity="0.17"/><circle cx="2666.0" cy="570.8" r="7.4" fill="#A6761D" fill-opacity="0.17"/>
<path d="M2175.7 741.2 L2420.7 711.1 L2666.0 721.1" fill="none" stroke="#7A7A7A" stroke-opacity="0.15" stroke-width="6.5" stroke-linejoin="round"/><circle cx="2175.7" cy="741.2" r="7.4" fill="#66A61E" fill-opacity="0.17"/><circle cx="2420.7" cy="711.1" r="7.4" fill="#66A61E" fill-opacity="0.17"/><circle cx="2666.0" cy="721.1" r="7.4" fill="#66A61E" fill-opacity="0.17"/>
<path d="M2175.7 751.2 L2420.7 701.1 L2666.0 791.3" fill="none" stroke="#7A7A7A" stroke-opacity="0.15" stroke-width="6.5" stroke-linejoin="round"/><circle cx="2175.7" cy="751.2" r="7.4" fill="#D95F02" fill-opacity="0.17"/><circle cx="2420.7" cy="701.1" r="7.4" fill="#D95F02" fill-opacity="0.17"/><circle cx="2666.0" cy="791.3" r="7.4" fill="#D95F02" fill-opacity="0.17"/>
<path d="M2175.7 510.7 L2420.7 470.6 L2666.0 590.9" fill="none" stroke="#666666" stroke-opacity="1" stroke-width="6.5" stroke-linejoin="round"/><circle cx="2175.7" cy="510.7" r="7.4" fill="#666666" fill-opacity="1"/><circle cx="2420.7" cy="470.6" r="7.4" fill="#666666" fill-opacity="1"/><circle cx="2666.0" cy="590.9" r="7.4" fill="#666666" fill-opacity="1"/>
<path d="M2175.7 811.3 L2420.7 771.2 L2666.0 871.4" fill="none" stroke="#1B9E77" stroke-opacity="1" stroke-width="6.5" stroke-linejoin="round"/><circle cx="2175.7" cy="811.3" r="7.4" fill="#1B9E77" fill-opacity="1"/><circle cx="2420.7" cy="771.2" r="7.4" fill="#1B9E77" fill-opacity="1"/><circle cx="2666.0" cy="871.4" r="7.4" fill="#1B9E77" fill-opacity="1"/>
<path d="M2175.7 731.1 L2420.7 741.2 L2666.0 901.5" fill="none" stroke="#E69F00" stroke-opacity="1" stroke-width="6.5" stroke-linejoin="round"/><circle cx="2175.7" cy="731.1" r="7.4" fill="#E69F00" fill-opacity="1"/><circle cx="2420.7" cy="741.2" r="7.4" fill="#E69F00" fill-opacity="1"/><circle cx="2666.0" cy="901.5" r="7.4" fill="#E69F00" fill-opacity="1"/>
<line x1="2669.0" y1="1091.9" x2="2870.7" y2="1091.9" stroke="#565656" stroke-width="2.6"/>
<rect x="2871.5" y="1073.9" width="79.3" height="35.6" fill="#fff" stroke="#565656" stroke-width="1.7" rx="5.5"/>
<text x="2911.1" y="1100.4" font-size="23.60" text-anchor="middle" font-weight="normal" fill="#565656">Shots</text>
<line x1="2669.0" y1="410.5" x2="2776.6" y2="410.5" stroke="#635F98" stroke-width="2.6"/>
<rect x="2777.4" y="392.5" width="196.4" height="35.7" fill="#fff" stroke="#635F98" stroke-width="1.7" rx="5.5"/>
<text x="2875.6" y="419.1" font-size="23.60" text-anchor="middle" font-weight="normal" fill="#635F98">Defensive Action</text>
<line x1="2668.5" y1="569.2" x2="2699.1" y2="549.5" stroke="#8D6418" stroke-width="2.6"/>
<rect x="2699.9" y="530.3" width="273.9" height="35.2" fill="#fff" stroke="#8D6418" stroke-width="1.7" rx="5.5"/>
<text x="2836.8" y="556.6" font-size="23.60" text-anchor="middle" font-weight="normal" fill="#8D6418">Possession Involvement</text>
<line x1="2669.0" y1="721.1" x2="2776.6" y2="721.1" stroke="#568D19" stroke-width="2.6"/>
<rect x="2777.4" y="703.6" width="196.4" height="35.7" fill="#fff" stroke="#568D19" stroke-width="1.7" rx="5.5"/>
<text x="2875.6" y="730.2" font-size="23.60" text-anchor="middle" font-weight="normal" fill="#568D19">Long Distribution</text>
<line x1="2669.0" y1="791.3" x2="2854.6" y2="791.3" stroke="#B85001" stroke-width="2.6"/>
<rect x="2855.4" y="773.9" width="111.6" height="35.3" fill="#fff" stroke="#B85001" stroke-width="1.7" rx="5.5"/>
<text x="2911.2" y="800.2" font-size="23.60" text-anchor="middle" font-weight="normal" fill="#B85001">Crossing</text>
<line x1="2669.0" y1="591.1" x2="2856.3" y2="604.5" stroke="#565656" stroke-width="2.6"/>
<rect x="2857.1" y="587.0" width="108.2" height="35.3" fill="#fff" stroke="#565656" stroke-width="1.7" rx="5.5"/>
<text x="2911.2" y="613.4" font-size="23.60" text-anchor="middle" font-weight="normal" fill="#565656">Carrying</text>
<line x1="2669.0" y1="871.1" x2="2856.3" y2="852.4" stroke="#168665" stroke-width="2.6"/>
<rect x="2857.1" y="835.0" width="108.2" height="35.2" fill="#fff" stroke="#168665" stroke-width="1.7" rx="5.5"/>
<text x="2911.2" y="861.3" font-size="23.60" text-anchor="middle" font-weight="normal" fill="#168665">Creation</text>
<line x1="2669.0" y1="901.7" x2="2766.0" y2="909.6" stroke="#DA9700" stroke-width="2.6"/>
<rect x="2766.8" y="891.3" width="207.0" height="35.3" fill="#fff" stroke="#DA9700" stroke-width="1.7" rx="5.5"/>
<text x="2870.3" y="917.7" font-size="23.60" text-anchor="middle" font-weight="normal" fill="#DA9700">Passing Accuracy</text>
<line x1="2152.0" y1="1362.4" x2="2984.0" y2="1362.4" stroke="#000" stroke-width="3.4"/>
<text x="2175.7" y="1399.3" font-size="23.47" text-anchor="middle" font-weight="normal" fill="#4D4D4D">21-22</text>
<text x="2420.7" y="1399.3" font-size="23.47" text-anchor="middle" font-weight="normal" fill="#4D4D4D">22-23</text>
<text x="2666.0" y="1399.3" font-size="23.47" text-anchor="middle" font-weight="normal" fill="#4D4D4D">23-24</text>
<text id="t50" x="2531.50" y="1485.0" font-size="36.67" textLength="215.01" lengthAdjust="spacingAndGlyphs" font-weight="normal" font-style="normal" fill="#000" stroke="#000" stroke-width="0.99">Similar Players</text>
<rect x="2327.7" y="1529.5" width="562.2" height="41.7" fill="#FB7E87" stroke="#000" stroke-width="3" rx="0"/>
<rect x="2851.8" y="1533.7" width="76.2" height="33.5" fill="#fff" stroke="#111" stroke-width="1.7" rx="5"/>
<text x="2889.9" y="1557.7" font-size="19.40" text-anchor="middle" font-weight="normal" fill="#000">98.8%</text>
<text id="t51" x="2125.99" y="1546.4" font-size="27.60" textLength="155.52" lengthAdjust="spacingAndGlyphs" font-weight="normal" font-style="normal" fill="#000" stroke="#000" stroke-width="0.75">Bradley Locko</text>
<text id="t52" x="2206.46" y="1576.4" font-size="27.60" textLength="76.07" lengthAdjust="spacingAndGlyphs" font-weight="normal" font-style="normal" fill="#000" stroke="#000" stroke-width="0.75">(Brest)</text>
<rect x="2327.7" y="1613.7" width="554.8" height="41.7" fill="#FB848A" stroke="#000" stroke-width="3" rx="0"/>
<rect x="2844.4" y="1617.9" width="76.2" height="33.5" fill="#fff" stroke="#111" stroke-width="1.7" rx="5"/>
<text x="2882.5" y="1641.9" font-size="19.40" text-anchor="middle" font-weight="normal" fill="#000">97.5%</text>
<text id="t53" x="2139.49" y="1630.6" font-size="27.60" textLength="142.02" lengthAdjust="spacingAndGlyphs" font-weight="normal" font-style="normal" fill="#000" stroke="#000" stroke-width="0.75">Tiago Santos</text>
<text id="t54" x="2219.94" y="1660.6" font-size="27.60" textLength="62.57" lengthAdjust="spacingAndGlyphs" font-weight="normal" font-style="normal" fill="#000" stroke="#000" stroke-width="0.75">(Lille)</text>
<rect x="2327.7" y="1697.9" width="540.6" height="41.7" fill="#FA8F8E" stroke="#000" stroke-width="3" rx="0"/>
<rect x="2838.7" y="1702.1" width="59.2" height="33.5" fill="#fff" stroke="#111" stroke-width="1.7" rx="5"/>
<text x="2868.2" y="1726.1" font-size="19.40" text-anchor="middle" font-weight="normal" fill="#000">95%</text>
<text id="t55" x="2156.98" y="1714.8" font-size="27.60" textLength="124.52" lengthAdjust="spacingAndGlyphs" font-weight="normal" font-style="normal" fill="#000" stroke="#000" stroke-width="0.75">Guela Doue</text>
<text id="t56" x="2183.96" y="1744.8" font-size="27.60" textLength="98.56" lengthAdjust="spacingAndGlyphs" font-weight="normal" font-style="normal" fill="#000" stroke="#000" stroke-width="0.75">(Rennes)</text>
<rect x="2327.7" y="1782.1" width="537.1" height="41.7" fill="#FA938F" stroke="#000" stroke-width="3" rx="0"/>
<rect x="2826.7" y="1786.3" width="76.2" height="33.5" fill="#fff" stroke="#111" stroke-width="1.7" rx="5"/>
<text x="2864.8" y="1810.3" font-size="19.40" text-anchor="middle" font-weight="normal" fill="#000">94.4%</text>
<text id="t57" x="2123.48" y="1799.0" font-size="27.60" textLength="157.04" lengthAdjust="spacingAndGlyphs" font-weight="normal" font-style="normal" fill="#000" stroke="#000" stroke-width="0.75">Nahuel Molina</text>
<text id="t58" x="2096.48" y="1829.0" font-size="27.60" textLength="186.02" lengthAdjust="spacingAndGlyphs" font-weight="normal" font-style="normal" fill="#000" stroke="#000" stroke-width="0.75">(Atletico Madrid)</text>
<rect x="2327.7" y="1866.3" width="536.0" height="41.7" fill="#FA9590" stroke="#000" stroke-width="3" rx="0"/>
<rect x="2825.6" y="1870.5" width="76.2" height="33.5" fill="#fff" stroke="#111" stroke-width="1.7" rx="5"/>
<text x="2863.7" y="1894.5" font-size="19.40" text-anchor="middle" font-weight="normal" fill="#000">94.2%</text>
<text id="t59" x="2149.99" y="1883.2" font-size="27.60" textLength="131.52" lengthAdjust="spacingAndGlyphs" font-weight="normal" font-style="normal" fill="#000" stroke="#000" stroke-width="0.75">Pedro Porro</text>
<text id="t60" x="2144.97" y="1913.2" font-size="27.60" textLength="137.56" lengthAdjust="spacingAndGlyphs" font-weight="normal" font-style="normal" fill="#000" stroke="#000" stroke-width="0.75">(Tottenham)</text>
<text y="1990.8" font-size="29.30" font-style="italic" lengthAdjust="spacingAndGlyphs" fill="#000" stroke="#000" stroke-width="0.6"><tspan x="60.0" textLength="79.7" lengthAdjust="spacingAndGlyphs">Source:</tspan><tspan x="146.6" textLength="109.8" lengthAdjust="spacingAndGlyphs">Understat,</tspan><tspan x="263.3" textLength="49.5" lengthAdjust="spacingAndGlyphs">Opta</tspan><tspan x="319.7" textLength="31.3" lengthAdjust="spacingAndGlyphs">via</tspan><tspan x="357.8" textLength="57.6" lengthAdjust="spacingAndGlyphs">FBref</tspan></text>
<text y="2030.8" font-size="29.30" font-style="italic" lengthAdjust="spacingAndGlyphs" fill="#000" stroke="#000" stroke-width="0.6"><tspan x="60.0" textLength="69.0" lengthAdjust="spacingAndGlyphs">Notes:</tspan><tspan x="135.9" textLength="82.8" lengthAdjust="spacingAndGlyphs">Created</tspan><tspan x="225.6" textLength="24.1" lengthAdjust="spacingAndGlyphs">by</tspan><tspan x="256.6" textLength="183.1" lengthAdjust="spacingAndGlyphs">@macro_football</tspan><tspan x="446.6" textLength="25.9" lengthAdjust="spacingAndGlyphs">on</tspan><tspan x="479.4" textLength="128.5" lengthAdjust="spacingAndGlyphs">2024-06-01.</tspan><tspan x="614.8" textLength="26.9" lengthAdjust="spacingAndGlyphs">All</tspan><tspan x="648.6" textLength="119.1" lengthAdjust="spacingAndGlyphs">percentiles</tspan><tspan x="774.6" textLength="38.8" lengthAdjust="spacingAndGlyphs">and</tspan><tspan x="820.3" textLength="80.6" lengthAdjust="spacingAndGlyphs">metrics</tspan><tspan x="907.8" textLength="33.0" lengthAdjust="spacingAndGlyphs">are</tspan><tspan x="947.7" textLength="78.8" lengthAdjust="spacingAndGlyphs">relative</tspan><tspan x="1033.4" textLength="21.0" lengthAdjust="spacingAndGlyphs">to</tspan><tspan x="1061.3" textLength="25.1" lengthAdjust="spacingAndGlyphs">all</tspan><tspan x="1093.3" textLength="76.5" lengthAdjust="spacingAndGlyphs">players</tspan><tspan x="1176.7" textLength="18.9" lengthAdjust="spacingAndGlyphs">in</tspan><tspan x="1202.5" textLength="33.9" lengthAdjust="spacingAndGlyphs">the</tspan><tspan x="1243.3" textLength="35.3" lengthAdjust="spacingAndGlyphs">top</tspan><tspan x="1285.5" textLength="12.2" lengthAdjust="spacingAndGlyphs">5</tspan><tspan x="1304.6" textLength="100.5" lengthAdjust="spacingAndGlyphs">European</tspan><tspan x="1412.0" textLength="90.7" lengthAdjust="spacingAndGlyphs">leagues.</tspan><tspan x="1509.6" textLength="73.0" lengthAdjust="spacingAndGlyphs">Overall</tspan><tspan x="1589.5" textLength="18.9" lengthAdjust="spacingAndGlyphs">is</tspan><tspan x="1615.3" textLength="33.0" lengthAdjust="spacingAndGlyphs">the</tspan><tspan x="1655.2" textLength="82.8" lengthAdjust="spacingAndGlyphs">player's</tspan><tspan x="1744.9" textLength="96.0" lengthAdjust="spacingAndGlyphs">expected</tspan><tspan x="1847.8" textLength="67.7" lengthAdjust="spacingAndGlyphs">points</tspan><tspan x="1922.4" textLength="64.1" lengthAdjust="spacingAndGlyphs">above</tspan><tspan x="1993.4" textLength="132.1" lengthAdjust="spacingAndGlyphs">replacement</tspan><tspan x="2132.4" textLength="73.8" lengthAdjust="spacingAndGlyphs">(xPAR)</tspan><tspan x="2213.1" textLength="113.4" lengthAdjust="spacingAndGlyphs">percentile.</tspan><tspan x="2333.4" textLength="84.1" lengthAdjust="spacingAndGlyphs">Offense</tspan><tspan x="2424.4" textLength="38.4" lengthAdjust="spacingAndGlyphs">and</tspan><tspan x="2469.7" textLength="88.5" lengthAdjust="spacingAndGlyphs">Defense</tspan><tspan x="2565.1" textLength="73.0" lengthAdjust="spacingAndGlyphs">Impact</tspan><tspan x="2645.0" textLength="119.6" lengthAdjust="spacingAndGlyphs">percentiles</tspan><tspan x="2771.5" textLength="38.4" lengthAdjust="spacingAndGlyphs">and</tspan><tspan x="2816.8" textLength="94.3" lengthAdjust="spacingAndGlyphs">Z-Scores</tspan><tspan x="2918.0" textLength="33.6" lengthAdjust="spacingAndGlyphs">are</tspan></text>
<text y="2070.7" font-size="29.30" font-style="italic" lengthAdjust="spacingAndGlyphs" fill="#000" stroke="#000" stroke-width="0.6"><tspan x="60.0" textLength="32.2" lengthAdjust="spacingAndGlyphs">the</tspan><tspan x="99.1" textLength="82.8" lengthAdjust="spacingAndGlyphs">player's</tspan><tspan x="188.7" textLength="84.1" lengthAdjust="spacingAndGlyphs">isolated</tspan><tspan x="279.7" textLength="74.3" lengthAdjust="spacingAndGlyphs">impact</tspan><tspan x="360.9" textLength="26.4" lengthAdjust="spacingAndGlyphs">on</tspan><tspan x="394.2" textLength="40.6" lengthAdjust="spacingAndGlyphs">xGF</tspan><tspan x="441.7" textLength="38.8" lengthAdjust="spacingAndGlyphs">and</tspan><tspan x="487.4" textLength="43.3" lengthAdjust="spacingAndGlyphs">xGA</tspan><tspan x="537.6" textLength="30.4" lengthAdjust="spacingAndGlyphs">(or</tspan><tspan x="574.9" textLength="29.3" lengthAdjust="spacingAndGlyphs">GF</tspan><tspan x="610.4" textLength="38.8" lengthAdjust="spacingAndGlyphs">and</tspan><tspan x="656.1" textLength="39.7" lengthAdjust="spacingAndGlyphs">GA)</tspan><tspan x="702.7" textLength="32.2" lengthAdjust="spacingAndGlyphs">per</tspan><tspan x="741.8" textLength="33.9" lengthAdjust="spacingAndGlyphs">90,</tspan><tspan x="782.6" textLength="115.2" lengthAdjust="spacingAndGlyphs">controlling</tspan><tspan x="904.7" textLength="30.8" lengthAdjust="spacingAndGlyphs">for</tspan><tspan x="942.4" textLength="124.5" lengthAdjust="spacingAndGlyphs">teammates,</tspan><tspan x="1073.8" textLength="112.5" lengthAdjust="spacingAndGlyphs">opposition</tspan><tspan x="1193.2" textLength="82.3" lengthAdjust="spacingAndGlyphs">players,</tspan><tspan x="1282.4" textLength="111.6" lengthAdjust="spacingAndGlyphs">managers,</tspan><tspan x="1400.9" textLength="65.0" lengthAdjust="spacingAndGlyphs">score,</tspan><tspan x="1472.8" textLength="98.7" lengthAdjust="spacingAndGlyphs">situation,</tspan><tspan x="1578.4" textLength="60.6" lengthAdjust="spacingAndGlyphs">etc...,</tspan><tspan x="1645.9" textLength="69.9" lengthAdjust="spacingAndGlyphs">scaled</tspan><tspan x="1722.7" textLength="78.3" lengthAdjust="spacingAndGlyphs">relative</tspan><tspan x="1807.9" textLength="21.1" lengthAdjust="spacingAndGlyphs">to</tspan><tspan x="1835.9" textLength="101.8" lengthAdjust="spacingAndGlyphs">European</tspan><tspan x="1944.6" textLength="38.4" lengthAdjust="spacingAndGlyphs">Top</tspan><tspan x="1989.9" textLength="13.5" lengthAdjust="spacingAndGlyphs">5</tspan><tspan x="2010.3" textLength="77.4" lengthAdjust="spacingAndGlyphs">League</tspan><tspan x="2094.6" textLength="91.6" lengthAdjust="spacingAndGlyphs">average.</tspan><tspan x="2193.2" textLength="97.4" lengthAdjust="spacingAndGlyphs">Finishing</tspan><tspan x="2297.5" textLength="28.6" lengthAdjust="spacingAndGlyphs">(or</tspan><tspan x="2333.0" textLength="81.0" lengthAdjust="spacingAndGlyphs">Saving)</tspan><tspan x="2420.9" textLength="73.0" lengthAdjust="spacingAndGlyphs">Impact</tspan><tspan x="2500.8" textLength="118.7" lengthAdjust="spacingAndGlyphs">percentiles</tspan><tspan x="2626.4" textLength="38.4" lengthAdjust="spacingAndGlyphs">and</tspan><tspan x="2671.6" textLength="95.2" lengthAdjust="spacingAndGlyphs">Z-Scores</tspan><tspan x="2773.7" textLength="33.9" lengthAdjust="spacingAndGlyphs">are</tspan><tspan x="2814.6" textLength="33.0" lengthAdjust="spacingAndGlyphs">the</tspan><tspan x="2854.5" textLength="81.5" lengthAdjust="spacingAndGlyphs">player's</tspan></text>
<text y="2110.7" font-size="29.30" font-style="italic" lengthAdjust="spacingAndGlyphs" fill="#000" stroke="#000" stroke-width="0.6"><tspan x="60.0" textLength="73.0" lengthAdjust="spacingAndGlyphs">impact</tspan><tspan x="139.9" textLength="26.4" lengthAdjust="spacingAndGlyphs">on</tspan><tspan x="173.2" textLength="45.5" lengthAdjust="spacingAndGlyphs">shot</tspan><tspan x="225.6" textLength="33.0" lengthAdjust="spacingAndGlyphs">xG,</tspan><tspan x="265.5" textLength="78.8" lengthAdjust="spacingAndGlyphs">relative</tspan><tspan x="351.2" textLength="21.5" lengthAdjust="spacingAndGlyphs">to</tspan><tspan x="379.6" textLength="101.0" lengthAdjust="spacingAndGlyphs">European</tspan><tspan x="487.4" textLength="39.7" lengthAdjust="spacingAndGlyphs">Top</tspan><tspan x="534.0" textLength="13.1" lengthAdjust="spacingAndGlyphs">5</tspan><tspan x="554.0" textLength="77.4" lengthAdjust="spacingAndGlyphs">League</tspan><tspan x="638.3" textLength="92.1" lengthAdjust="spacingAndGlyphs">average.</tspan><tspan x="737.3" textLength="49.5" lengthAdjust="spacingAndGlyphs">Shot</tspan><tspan x="793.7" textLength="28.6" lengthAdjust="spacingAndGlyphs">(or</tspan><tspan x="829.2" textLength="36.6" lengthAdjust="spacingAndGlyphs">xG)</tspan><tspan x="872.7" textLength="59.7" lengthAdjust="spacingAndGlyphs">Share</tspan><tspan x="939.3" textLength="18.4" lengthAdjust="spacingAndGlyphs">is</tspan><tspan x="964.6" textLength="34.4" lengthAdjust="spacingAndGlyphs">the</tspan><tspan x="1005.9" textLength="58.8" lengthAdjust="spacingAndGlyphs">share</tspan><tspan x="1071.5" textLength="22.0" lengthAdjust="spacingAndGlyphs">of</tspan><tspan x="1100.4" textLength="33.0" lengthAdjust="spacingAndGlyphs">the</tspan><tspan x="1140.3" textLength="70.8" lengthAdjust="spacingAndGlyphs">team's</tspan><tspan x="1218.0" textLength="59.2" lengthAdjust="spacingAndGlyphs">shots</tspan><tspan x="1284.2" textLength="28.6" lengthAdjust="spacingAndGlyphs">(or</tspan><tspan x="1319.7" textLength="37.5" lengthAdjust="spacingAndGlyphs">xG)</tspan><tspan x="1364.0" textLength="41.9" lengthAdjust="spacingAndGlyphs">that</tspan><tspan x="1412.9" textLength="32.2" lengthAdjust="spacingAndGlyphs">the</tspan><tspan x="1451.9" textLength="66.3" lengthAdjust="spacingAndGlyphs">player</tspan><tspan x="1525.2" textLength="57.5" lengthAdjust="spacingAndGlyphs">takes</tspan><tspan x="1589.5" textLength="56.1" lengthAdjust="spacingAndGlyphs">when</tspan><tspan x="1652.6" textLength="26.4" lengthAdjust="spacingAndGlyphs">on</tspan><tspan x="1685.8" textLength="33.0" lengthAdjust="spacingAndGlyphs">the</tspan><tspan x="1725.8" textLength="54.4" lengthAdjust="spacingAndGlyphs">field.</tspan><tspan x="1787.0" textLength="66.3" lengthAdjust="spacingAndGlyphs">Usage</tspan><tspan x="1860.3" textLength="17.5" lengthAdjust="spacingAndGlyphs">is</tspan><tspan x="1884.7" textLength="33.0" lengthAdjust="spacingAndGlyphs">the</tspan><tspan x="1924.6" textLength="58.3" lengthAdjust="spacingAndGlyphs">share</tspan><tspan x="1989.9" textLength="22.5" lengthAdjust="spacingAndGlyphs">of</tspan><tspan x="2020.1" textLength="33.0" lengthAdjust="spacingAndGlyphs">the</tspan><tspan x="2060.0" textLength="71.2" lengthAdjust="spacingAndGlyphs">team's</tspan><tspan x="2138.1" textLength="27.3" lengthAdjust="spacingAndGlyphs">xG</tspan><tspan x="2172.3" textLength="41.9" lengthAdjust="spacingAndGlyphs">that</tspan><tspan x="2221.1" textLength="32.2" lengthAdjust="spacingAndGlyphs">the</tspan><tspan x="2260.2" textLength="65.9" lengthAdjust="spacingAndGlyphs">player</tspan><tspan x="2333.0" textLength="18.0" lengthAdjust="spacingAndGlyphs">is</tspan><tspan x="2357.8" textLength="124.9" lengthAdjust="spacingAndGlyphs">responsible</tspan><tspan x="2489.7" textLength="29.9" lengthAdjust="spacingAndGlyphs">for</tspan><tspan x="2526.5" textLength="56.1" lengthAdjust="spacingAndGlyphs">when</tspan><tspan x="2589.5" textLength="26.4" lengthAdjust="spacingAndGlyphs">on</tspan><tspan x="2622.8" textLength="33.0" lengthAdjust="spacingAndGlyphs">the</tspan><tspan x="2662.8" textLength="47.7" lengthAdjust="spacingAndGlyphs">field</tspan><tspan x="2717.4" textLength="29.5" lengthAdjust="spacingAndGlyphs">via</tspan><tspan x="2753.7" textLength="61.0" lengthAdjust="spacingAndGlyphs">either</tspan><tspan x="2821.7" textLength="58.3" lengthAdjust="spacingAndGlyphs">shots</tspan><tspan x="2886.9" textLength="22.0" lengthAdjust="spacingAndGlyphs">or</tspan><tspan x="2915.8" textLength="46.9" lengthAdjust="spacingAndGlyphs">shot</tspan></text>
<text y="2150.6" font-size="29.30" font-style="italic" lengthAdjust="spacingAndGlyphs" fill="#000" stroke="#000" stroke-width="0.6"><tspan x="60.0" textLength="83.2" lengthAdjust="spacingAndGlyphs">assists.</tspan><tspan x="150.1" textLength="102.7" lengthAdjust="spacingAndGlyphs">Individual</tspan><tspan x="259.7" textLength="160.0" lengthAdjust="spacingAndGlyphs">characteristics</tspan><tspan x="426.6" textLength="41.5" lengthAdjust="spacingAndGlyphs">(i.e.</tspan><tspan x="475.0" textLength="93.4" lengthAdjust="spacingAndGlyphs">dribbling</tspan><tspan x="575.3" textLength="39.3" lengthAdjust="spacingAndGlyphs">and</tspan><tspan x="621.5" textLength="95.6" lengthAdjust="spacingAndGlyphs">creating)</tspan><tspan x="724.0" textLength="33.9" lengthAdjust="spacingAndGlyphs">are</tspan><tspan x="764.8" textLength="64.1" lengthAdjust="spacingAndGlyphs">based</tspan><tspan x="835.9" textLength="27.3" lengthAdjust="spacingAndGlyphs">on</tspan><tspan x="870.0" textLength="11.7" lengthAdjust="spacingAndGlyphs">a</tspan><tspan x="888.2" textLength="156.4" lengthAdjust="spacingAndGlyphs">dimensionality</tspan><tspan x="1051.6" textLength="101.4" lengthAdjust="spacingAndGlyphs">reduction</tspan><tspan x="1159.9" textLength="21.1" lengthAdjust="spacingAndGlyphs">of</tspan><tspan x="1187.8" textLength="50.8" lengthAdjust="spacingAndGlyphs">each</tspan><tspan x="1245.5" textLength="81.9" lengthAdjust="spacingAndGlyphs">player's</tspan><tspan x="1334.3" textLength="168.4" lengthAdjust="spacingAndGlyphs">micro-statistics</tspan><tspan x="1509.6" textLength="41.0" lengthAdjust="spacingAndGlyphs">(i.e.</tspan><tspan x="1557.6" textLength="54.8" lengthAdjust="spacingAndGlyphs">short</tspan><tspan x="1619.3" textLength="51.2" lengthAdjust="spacingAndGlyphs">pass</tspan><tspan x="1677.4" textLength="95.2" lengthAdjust="spacingAndGlyphs">attempts</tspan><tspan x="1779.5" textLength="39.3" lengthAdjust="spacingAndGlyphs">and</tspan><tspan x="1825.7" textLength="157.3" lengthAdjust="spacingAndGlyphs">interceptions).</tspan><tspan x="1989.9" textLength="64.6" lengthAdjust="spacingAndGlyphs">Player</tspan><tspan x="2061.3" textLength="58.3" lengthAdjust="spacingAndGlyphs">types</tspan><tspan x="2126.6" textLength="40.1" lengthAdjust="spacingAndGlyphs">(i.e.</tspan><tspan x="2173.6" textLength="124.9" lengthAdjust="spacingAndGlyphs">ball-playing</tspan><tspan x="2305.5" textLength="102.7" lengthAdjust="spacingAndGlyphs">defender)</tspan><tspan x="2415.1" textLength="33.0" lengthAdjust="spacingAndGlyphs">are</tspan><tspan x="2455.0" textLength="64.1" lengthAdjust="spacingAndGlyphs">based</tspan><tspan x="2526.1" textLength="27.7" lengthAdjust="spacingAndGlyphs">on</tspan><tspan x="2560.7" textLength="11.7" lengthAdjust="spacingAndGlyphs">a</tspan><tspan x="2578.4" textLength="106.3" lengthAdjust="spacingAndGlyphs">clustering</tspan><tspan x="2691.6" textLength="88.5" lengthAdjust="spacingAndGlyphs">analysis</tspan><tspan x="2787.0" textLength="19.7" lengthAdjust="spacingAndGlyphs">of</tspan><tspan x="2813.7" textLength="56.6" lengthAdjust="spacingAndGlyphs">every</tspan><tspan x="2877.1" textLength="82.5" lengthAdjust="spacingAndGlyphs">player's</tspan></text>
<text y="2190.6" font-size="29.30" font-style="italic" lengthAdjust="spacingAndGlyphs" fill="#000" stroke="#000" stroke-width="0.6"><tspan x="60.0" textLength="101.8" lengthAdjust="spacingAndGlyphs">individual</tspan><tspan x="168.8" textLength="167.5" lengthAdjust="spacingAndGlyphs">characteristics.</tspan><tspan x="343.2" textLength="65.0" lengthAdjust="spacingAndGlyphs">Player</tspan><tspan x="415.1" textLength="98.7" lengthAdjust="spacingAndGlyphs">similarity</tspan><tspan x="520.7" textLength="71.7" lengthAdjust="spacingAndGlyphs">scores</tspan><tspan x="599.3" textLength="33.0" lengthAdjust="spacingAndGlyphs">are</tspan><tspan x="639.2" textLength="64.6" lengthAdjust="spacingAndGlyphs">based</tspan><tspan x="710.7" textLength="27.3" lengthAdjust="spacingAndGlyphs">on</tspan><tspan x="744.9" textLength="33.0" lengthAdjust="spacingAndGlyphs">the</tspan><tspan x="784.8" textLength="57.5" lengthAdjust="spacingAndGlyphs">same</tspan><tspan x="849.2" textLength="101.8" lengthAdjust="spacingAndGlyphs">clustering</tspan><tspan x="957.9" textLength="98.4" lengthAdjust="spacingAndGlyphs">analysis.</tspan></text>
</g>
</svg>
</body></html>
